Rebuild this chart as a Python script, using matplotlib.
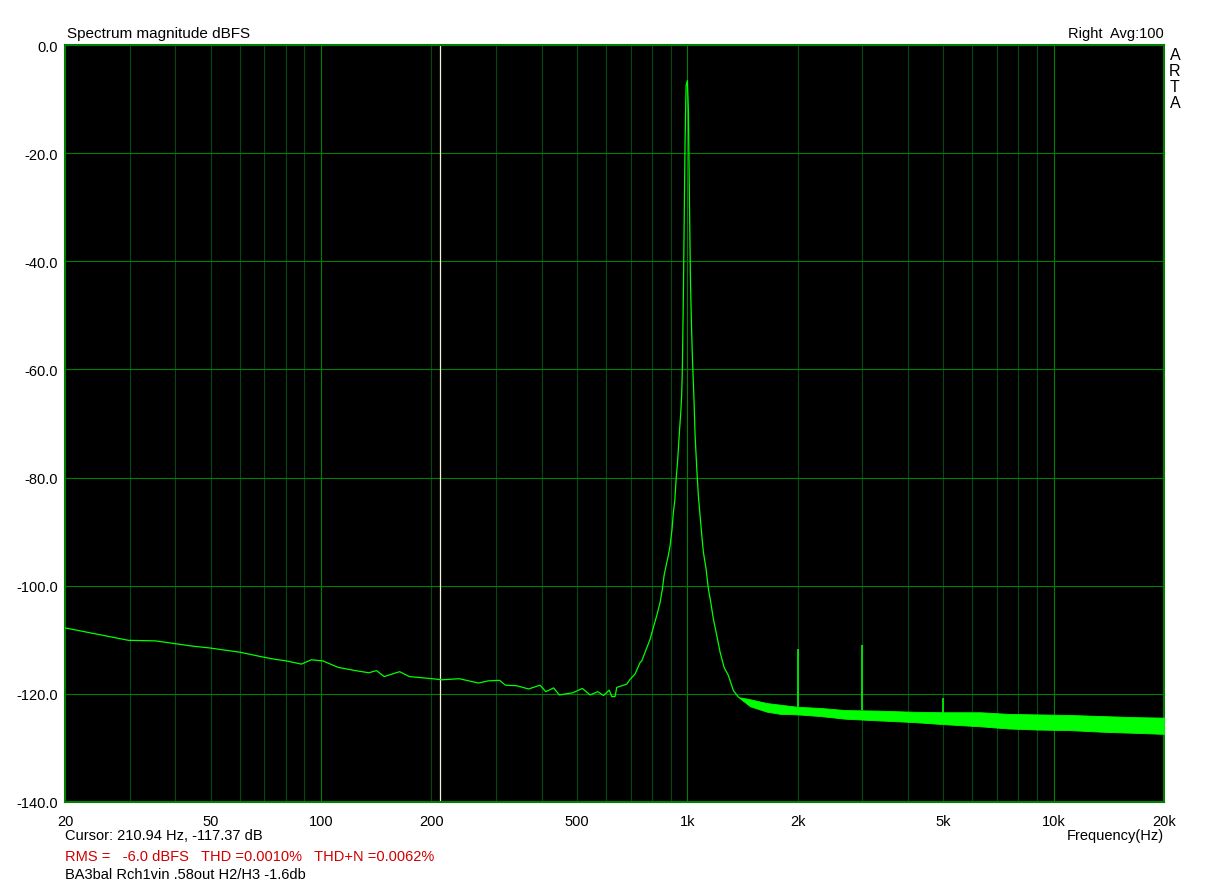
import numpy as np
import matplotlib
matplotlib.use('Agg')
import matplotlib.pyplot as plt

plt.rcParams['font.family'] = ['Liberation Sans', 'DejaVu Sans']

# noise floor below the fundamental (Hz, dBFS)
low_freq = [20, 29.8, 35.3, 39.8, 44.9, 49.5, 54.5, 60.1, 69.5, 74.7, 80.3, 88.4, 94.0, 101.1,
            111.3, 124.1, 135.0, 141.7, 148.7, 163.9, 174.1, 201.2, 213.8, 238.4, 269.0, 285.8,
            307.2, 318.6, 342.4, 368.4, 396.1, 410.8, 431.2, 447.1, 486.5, 516.7, 542.4, 569.3,
            590.2, 612.0, 621.7, 634.7, 641.6, 683.3, 697.6, 720.0]
low_db = [-107.8, -110.1, -110.2, -110.7, -111.2, -111.5, -111.9, -112.3, -113.2, -113.6, -113.9,
          -114.5, -113.7, -113.9, -115.1, -115.7, -116.1, -115.7, -116.8, -115.9, -116.8, -117.2,
          -117.4, -117.2, -118.0, -117.6, -117.5, -118.4, -118.5, -119.1, -118.4, -119.6, -118.9,
          -120.2, -119.8, -119.0, -120.2, -119.6, -120.3, -119.3, -120.5, -120.5, -118.8, -118.2,
          -117.3, -116.3]

# 1 kHz fundamental and its skirts
peak_freq = [742.9, 750.8, 766.6, 791.0, 807.5, 825.0, 842.3, 854.6, 863.8, 874.7, 887.2, 896.9,
             908.2, 915.7, 923.9, 931.5, 939.1, 945.0, 951.0, 959.4, 965.4, 969.0, 975.2, 979.5,
             985.6, 991.9, 1000.0, 1006.3, 1012.6, 1019.0, 1025.4, 1031.9, 1043.0, 1049.6, 1060.9,
             1071.5, 1083.1, 1094.8, 1105.8, 1124.6, 1141.1, 1158.5, 1177.6, 1202.9, 1228.3,
             1259.4, 1294.0, 1335.5, 1378.0]
peak_db = [-114.2, -113.9, -112.3, -109.9, -107.7, -105.5, -103.1, -100.6, -98.1, -96.3, -94.4,
           -92.6, -89.5, -86.4, -84.3, -80.3, -77.5, -74.7, -71.6, -67.9, -64.2, -59.6, -46.0,
           -34.0, -17.6, -7.5, -6.6, -12.1, -27.7, -42.7, -51.2, -57.7, -66.1, -72.2, -78.4,
           -83.4, -87.1, -90.7, -93.8, -96.9, -100.6, -103.1, -106.2, -109.2, -112.3, -115.1,
           -116.6, -119.4, -120.6]

# dense noise above 1.4 kHz, drawn as its upper / lower envelope
band_freq = [1378, 1483, 1647, 1791, 2000, 2300, 2700, 3300, 4100, 5000, 6300, 7500, 9000,
             11000, 13500, 16500, 20000]
band_hi = [-120.6, -121.0, -121.7, -122.0, -122.4, -122.6, -123.0, -123.1, -123.3, -123.4,
           -123.4, -123.7, -123.8, -123.9, -124.1, -124.3, -124.4]
band_lo = [-120.6, -122.3, -123.3, -123.7, -123.8, -124.1, -124.6, -124.9, -125.2, -125.6,
           -126.0, -126.4, -126.6, -126.7, -127.0, -127.2, -127.4]

# harmonics
spike_freq = [2000, 3000, 4990]
spike_top = [-111.7, -111.0, -120.8]
spike_base = [-122.5, -123.0, -123.5]

cursor_freq = 210.94

xtick_vals = [20, 50, 100, 200, 500, 1000, 2000, 5000, 10000, 20000]
xtick_labels = ['20', '50', '100', '200', '500', '1k', '2k', '5k', '10k', '20k']
ytick_vals = [0, -20, -40, -60, -80, -100, -120, -140]

GREEN = '#00ff00'
GRID_MAJOR = '#008000'
GRID_MINOR = '#004a14'

W, H = 1228, 887
fig = plt.figure(figsize=(W / 100, H / 100), dpi=100)
ax = fig.add_axes([65 / W, 1 - 803 / H, (1164 - 65) / W, (803 - 46) / H])
ax.set_facecolor('black')
ax.set_xscale('log')
ax.set_xlim(20, 20000)
ax.set_ylim(-140, 0)

# grid
for dec in [10, 100, 1000]:
    for m in range(2, 10):
        f = dec * m
        if 20 < f < 20000:
            ax.axvline(f, color=GRID_MINOR, lw=0.8, zorder=1)
for f in [100, 1000, 10000]:
    ax.axvline(f, color=GRID_MAJOR, lw=0.8, zorder=1)
for y in ytick_vals[1:-1]:
    ax.axhline(y, color=GRID_MAJOR, lw=0.8, zorder=1)

# trace
ax.plot(low_freq + peak_freq, low_db + peak_db, color=GREEN, lw=0.9, zorder=3)
ax.fill_between(band_freq, band_lo, band_hi, color=GREEN, lw=0.6, zorder=3)
ax.vlines(spike_freq, spike_base, spike_top, color=GREEN, lw=1.2, zorder=3)

# cursor
ax.axvline(cursor_freq, color='#f4f4d0', lw=0.9, zorder=2)

ax.set_xticks(xtick_vals)
ax.set_xticklabels(xtick_labels)
ax.xaxis.set_minor_locator(matplotlib.ticker.NullLocator())
ax.set_yticks(ytick_vals)
ax.set_yticklabels(['%.1f' % v for v in ytick_vals])
ax.tick_params(axis='both', length=0, labelsize=10.5, colors='black')
ax.tick_params(axis='x', pad=9)
ax.tick_params(axis='y', pad=5)
for s in ax.spines.values():
    s.set_color(GRID_MAJOR)
    s.set_linewidth(1.5)

# texts around the plot
def px(x, y):
    return x / W, 1 - y / H

fig.text(*px(67, 34), 'Spectrum magnitude dBFS', fontsize=11, va='center', ha='left')
fig.text(*px(1164, 34), 'Right  Avg:100', fontsize=10.5, va='center', ha='right')
for i, ch in enumerate('ARTA'):
    fig.text(*px(1175, 56 + i * 16), ch, fontsize=11.5, va='center', ha='center')
fig.text(*px(65, 836), 'Cursor: 210.94 Hz, -117.37 dB', fontsize=10.5, va='center', ha='left')
fig.text(*px(1164, 836), 'Frequency(Hz)', fontsize=10.5, va='center', ha='right')
fig.text(*px(65, 857), 'RMS =   -6.0 dBFS   THD =0.0010%   THD+N =0.0062%',
         fontsize=10.5, va='center', ha='left', color='#d00000')
fig.text(*px(65, 875), 'BA3bal Rch1vin .58out H2/H3 -1.6db', fontsize=10.5, va='center', ha='left')

fig.savefig('out.png', dpi=100, facecolor='white')
